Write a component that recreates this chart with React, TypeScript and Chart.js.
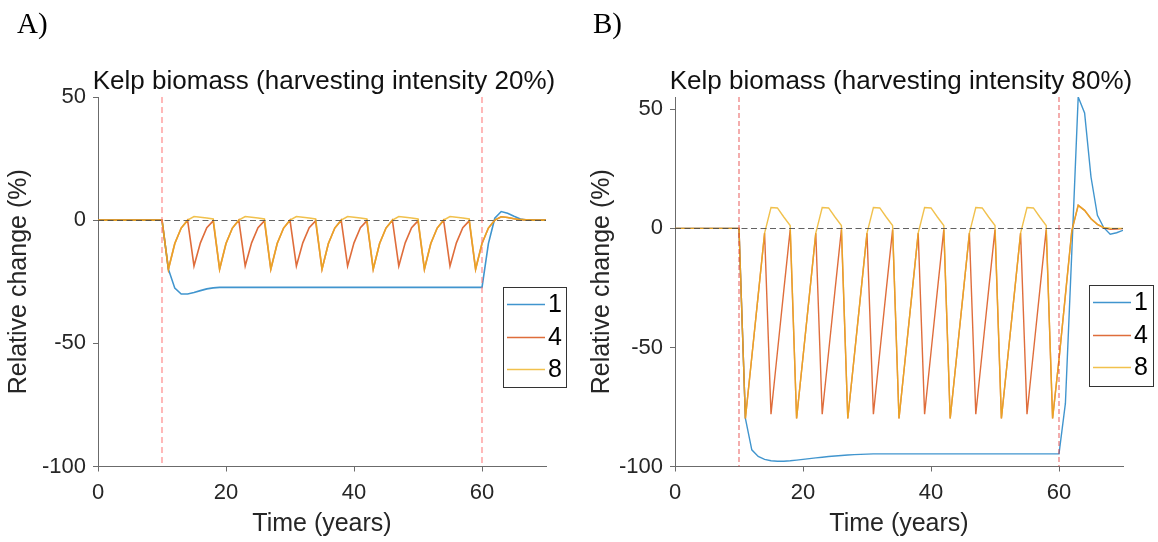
import React, { useEffect, useRef } from 'react';
import { Chart, registerables } from 'chart.js';

Chart.register(...registerables);

// ---------------- data ----------------
const years = [
  0, 1, 2, 3, 4, 5, 6, 7, 8, 9, 10,
  11, 12, 13, 14, 15, 16, 17, 18, 19, 20,
  21, 22, 23, 24, 25, 26, 27, 28, 29, 30,
  31, 32, 33, 34, 35, 36, 37, 38, 39, 40,
  41, 42, 43, 44, 45, 46, 47, 48, 49, 50,
  51, 52, 53, 54, 55, 56, 57, 58, 59, 60,
  61, 62, 63, 64, 65, 66, 67, 68, 69, 70,
];

const seriesLabels = ['1', '4', '8'];
const panelLabels = ['A)', 'B)'];
const panelTitles = [
  'Kelp biomass (harvesting intensity 20%)',
  'Kelp biomass (harvesting intensity 80%)',
];
const xAxisTitle = 'Time (years)';
const yAxisTitle = 'Relative change (%)';
const xRange = [0, 70];
const xTickStep = 20;
const yTickStep = 50;
const yRangeA = [-100, 50];
const yRangeB = [-100, 55.2];
const harvestLines = [10, 60];
const baselineValue = 0;

// Panel A: harvesting intensity 20%
const kelpA1 = [
  0, 0, 0, 0, 0, 0, 0, 0, 0, 0, 0,
  -19.9, -27.6, -30.0, -30.0, -29.4, -28.6, -27.9, -27.5,
  -27.3, -27.3, -27.3, -27.3, -27.3, -27.3, -27.3,
  -27.3, -27.3, -27.3, -27.3, -27.3, -27.3, -27.3,
  -27.3, -27.3, -27.3, -27.3, -27.3, -27.3, -27.3,
  -27.3, -27.3, -27.3, -27.3, -27.3, -27.3, -27.3,
  -27.3, -27.3, -27.3, -27.3, -27.3, -27.3, -27.3,
  -27.3, -27.3, -27.3, -27.3, -27.3, -27.3, -27.3,
  -9.5, 0.8, 3.5, 2.8, 1.6, 0.5, 0.1, 0, 0, 0,
];
const kelpA4 = [
  0, 0, 0, 0, 0, 0, 0, 0, 0, 0, 0,
  -19.9, -9.5, -3.2, 0.0, -18.6, -9.2, -3.1, -0.3,
  -19.9, -9.5, -3.2, 0.0, -18.6, -9.2, -3.1, -0.3,
  -19.9, -9.5, -3.2, 0.0, -18.6, -9.2, -3.1, -0.3,
  -19.9, -9.5, -3.2, 0.0, -18.6, -9.2, -3.1, -0.3,
  -19.9, -9.5, -3.2, 0.0, -18.6, -9.2, -3.1, -0.3,
  -19.9, -9.5, -3.2, 0.0, -18.6, -9.2, -3.1, -0.3,
  -19.9, -9.5, -3.2, 0.0, 1.4, 1.1, 0.6, 0.2, 0.1, 0, 0, 0,
];
const kelpA8 = [
  0, 0, 0, 0, 0, 0, 0, 0, 0, 0, 0,
  -19.9, -9.5, -3.2, 0.0, 1.5, 1.2, 0.9, 0.5,
  -19.9, -9.5, -3.2, 0.0, 1.5, 1.2, 0.9, 0.5,
  -19.9, -9.5, -3.2, 0.0, 1.5, 1.2, 0.9, 0.5,
  -19.9, -9.5, -3.2, 0.0, 1.5, 1.2, 0.9, 0.5,
  -19.9, -9.5, -3.2, 0.0, 1.5, 1.2, 0.9, 0.5,
  -19.9, -9.5, -3.2, 0.0, 1.5, 1.2, 0.9, 0.5,
  -19.9, -9.5, -3.2, 0.0, 1.4, 1.1, 0.6, 0.2, 0.1, 0, 0, 0,
];

// Panel B: harvesting intensity 80%
const kelpB1 = [
  0, 0, 0, 0, 0, 0, 0, 0, 0, 0, 0,
  -79.8, -93.0, -95.8, -97.0, -97.6, -97.8, -97.8, -97.6, -97.3, -97.0,
  -96.7, -96.4, -96.1, -95.8, -95.6, -95.4, -95.2, -95.0, -94.9, -94.8,
  -94.7, -94.7, -94.7, -94.7, -94.7, -94.7, -94.7, -94.7, -94.7, -94.7,
  -94.7, -94.7, -94.7, -94.7, -94.7, -94.7, -94.7, -94.7, -94.7, -94.7,
  -94.7, -94.7, -94.7, -94.7, -94.7, -94.7, -94.7, -94.7, -94.7, -94.7,
  -73.5, -10.0, 55.2, 48.5, 21.6, 5.5, 0.3, -2.4, -1.8, -0.8,
];
const kelpB4 = [
  0, 0, 0, 0, 0, 0, 0, 0, 0, 0, 0,
  -79.8, -54, -28, -2, -78, -52, -26, -0.5,
  -79.8, -54, -28, -2, -78, -52, -26, -0.5,
  -79.8, -54, -28, -2, -78, -52, -26, -0.5,
  -79.8, -54, -28, -2, -78, -52, -26, -0.5,
  -79.8, -54, -28, -2, -78, -52, -26, -0.5,
  -79.8, -54, -28, -2, -78, -52, -26, -0.5,
  -79.8, -55, -28, -1, 9.7, 7.6, 4.1, 1.7, 0.2, -0.4, -0.3, -0.1,
];
const kelpB8 = [
  0, 0, 0, 0, 0, 0, 0, 0, 0, 0, 0,
  -79.8, -54, -28, -2, 8.8, 8.6, 4.8, 1.2,
  -79.8, -54, -28, -2, 8.8, 8.6, 4.8, 1.2,
  -79.8, -54, -28, -2, 8.8, 8.6, 4.8, 1.2,
  -79.8, -54, -28, -2, 8.8, 8.6, 4.8, 1.2,
  -79.8, -54, -28, -2, 8.8, 8.6, 4.8, 1.2,
  -79.8, -54, -28, -2, 8.8, 8.6, 4.8, 1.2,
  -79.8, -55, -28, -1, 9.7, 7.6, 4.1, 1.7, 0.4, 0.1, 0, 0,
];

// ---------------- styles ----------------
const SANS = '"Liberation Sans", Arial, Helvetica, sans-serif';
const SERIF = '"Liberation Serif", "Times New Roman", serif';
const seriesColors = ['rgba(0,114,189,0.75)', 'rgba(217,83,25,0.85)', 'rgba(237,177,32,0.8)'];
const TEXT = '#262626';
const AXIS = '#6b6b6b';

type PanelCfg = {
  canvasLeft: number;
  canvasWidth: number;
  yRange: number[];
  series: number[][];
  label: string;
  title: string;
  labelX: number;
  legendBox: { x: number; y: number; w: number; h: number };
  yTitlePad: number;
  vColor: string;
  vWidth: number;
  vDash: number[];
  lineWidth: number;
};

const panels: PanelCfg[] = [
  {
    canvasLeft: 0,
    canvasWidth: 577,
    yRange: yRangeA,
    series: [kelpA1, kelpA4, kelpA8],
    label: panelLabels[0],
    title: panelTitles[0],
    labelX: 17,
    legendBox: { x: 503, y: 287, w: 63, h: 100 },
    yTitlePad: 4,
    vColor: 'rgba(255,110,110,0.75)',
    vWidth: 1.3,
    vDash: [6, 4],
    lineWidth: 1.6,
  },
  {
    canvasLeft: 577,
    canvasWidth: 581,
    yRange: yRangeB,
    series: [kelpB1, kelpB4, kelpB8],
    label: panelLabels[1],
    title: panelTitles[1],
    labelX: 16,
    legendBox: { x: 512, y: 285, w: 64, h: 101 },
    yTitlePad: 10,
    vColor: 'rgba(225,40,40,0.85)',
    vWidth: 0.9,
    vDash: [5, 3],
    lineWidth: 1.4,
  },
];

const legendRows = [17.5, 50.5, 82.5];

function makeDecor(cfg: PanelCfg) {
  return {
    id: 'decor',
    afterDatasetsDraw(chart: any) {
      const { ctx, chartArea, scales } = chart;
      const xs = scales.x;
      const ys = scales.y;
      ctx.save();
      ctx.beginPath();
      ctx.rect(chartArea.left, chartArea.top, chartArea.right - chartArea.left, chartArea.bottom - chartArea.top);
      ctx.clip();
      // zero reference line
      ctx.setLineDash([6, 3.5]);
      ctx.strokeStyle = 'rgba(70,70,70,0.85)';
      ctx.lineWidth = 1;
      const y0 = Math.round(ys.getPixelForValue(baselineValue)) + 0.5;
      ctx.beginPath();
      ctx.moveTo(xs.getPixelForValue(xRange[0]), y0);
      ctx.lineTo(xs.getPixelForValue(xRange[1]), y0);
      ctx.stroke();
      // harvesting period
      ctx.setLineDash(cfg.vDash);
      ctx.strokeStyle = cfg.vColor;
      ctx.lineWidth = cfg.vWidth;
      for (const v of harvestLines) {
        const x = xs.getPixelForValue(v);
        ctx.beginPath();
        ctx.moveTo(x, chartArea.top);
        ctx.lineTo(x, chartArea.bottom);
        ctx.stroke();
      }
      ctx.restore();
    },
    afterDraw(chart: any) {
      const { ctx, chartArea } = chart;
      ctx.save();
      // panel label
      ctx.fillStyle = '#000';
      ctx.font = `29px ${SERIF}`;
      ctx.textAlign = 'left';
      ctx.textBaseline = 'alphabetic';
      ctx.fillText(cfg.label, cfg.labelX, 33);
      // title
      ctx.font = `26px ${SANS}`;
      ctx.textAlign = 'center';
      ctx.fillStyle = '#111';
      ctx.fillText(cfg.title, (chartArea.left + chartArea.right) / 2 + 2, 89);
      // legend
      const b = cfg.legendBox;
      ctx.fillStyle = '#fff';
      ctx.fillRect(b.x, b.y, b.w, b.h);
      ctx.setLineDash([]);
      ctx.strokeStyle = '#333';
      ctx.lineWidth = 1;
      ctx.strokeRect(b.x + 0.5, b.y + 0.5, b.w, b.h);
      chart.data.datasets.forEach((ds: any, i: number) => {
        const y = b.y + legendRows[i];
        ctx.strokeStyle = ds.borderColor;
        ctx.lineWidth = 1.6;
        ctx.beginPath();
        ctx.moveTo(b.x + 4, y);
        ctx.lineTo(b.x + 42, y);
        ctx.stroke();
        ctx.fillStyle = '#000';
        ctx.font = `25px ${SANS}`;
        ctx.textAlign = 'left';
        ctx.textBaseline = 'middle';
        ctx.fillText(ds.label, b.x + 45, y + 1);
      });
      ctx.restore();
    },
  };
}

function Panel({ cfg }: { cfg: PanelCfg }) {
  const ref = useRef<HTMLCanvasElement | null>(null);
  useEffect(() => {
    if (!ref.current) return;
    const datasets = cfg.series.map((s, i) => ({
      label: seriesLabels[i],
      data: years.map((t, k) => ({ x: t, y: s[k] })),
      borderColor: seriesColors[i],
      backgroundColor: seriesColors[i],
      borderWidth: cfg.lineWidth,
      pointRadius: 0,
      tension: 0,
      fill: false,
      order: 3 - i,
    }));
    const axisCommon = {
      grid: { drawOnChartArea: false, drawTicks: true, tickLength: 5, color: AXIS, lineWidth: 1 },
      border: { display: true, color: AXIS, width: 1 },
    };
    const chart = new Chart(ref.current, {
      type: 'line',
      data: { datasets },
      plugins: [makeDecor(cfg)],
      options: {
        responsive: false,
        animation: false,
        devicePixelRatio: 1,
        layout: { padding: { top: 97, left: 0, bottom: 0, right: cfg.canvasWidth - 98 - 448 } },
        plugins: { legend: { display: false }, tooltip: { enabled: false }, title: { display: false } },
        scales: {
          x: {
            type: 'linear',
            min: xRange[0],
            max: xRange[1],
            ...axisCommon,
            ticks: {
              stepSize: xTickStep,
              includeBounds: false,
              color: TEXT,
              font: { family: SANS, size: 22 },
              padding: 8,
              maxRotation: 0,
              autoSkip: false,
            },
            title: {
              display: true,
              text: xAxisTitle,
              color: TEXT,
              font: { family: SANS, size: 25 },
              padding: { top: 0, bottom: 3 },
            },
            afterFit: (s: any) => {
              s.height = 75.5;
            },
          },
          y: {
            type: 'linear',
            min: cfg.yRange[0],
            max: cfg.yRange[1],
            ...axisCommon,
            ticks: {
              stepSize: yTickStep,
              includeBounds: false,
              color: TEXT,
              font: { family: SANS, size: 22 },
              padding: 7,
            },
            title: {
              display: true,
              text: yAxisTitle,
              color: TEXT,
              font: { family: SANS, size: 25 },
              padding: { top: cfg.yTitlePad, bottom: 0 },
            },
            afterFit: (s: any) => {
              s.width = 98;
            },
          },
        },
      } as any,
    });
    return () => chart.destroy();
  }, [cfg]);
  return (
    <canvas
      ref={ref}
      width={cfg.canvasWidth}
      height={542}
      style={{ position: 'absolute', left: cfg.canvasLeft, top: 0, width: cfg.canvasWidth, height: 542 }}
    />
  );
}

export default function App() {
  useEffect(() => {
    document.body.style.margin = '0';
    document.body.style.background = '#fff';
  }, []);
  return (
    <div style={{ position: 'relative', width: 1158, height: 542, background: '#fff', overflow: 'hidden' }}>
      {panels.map((p, i) => (
        <Panel key={i} cfg={p} />
      ))}
    </div>
  );
}
